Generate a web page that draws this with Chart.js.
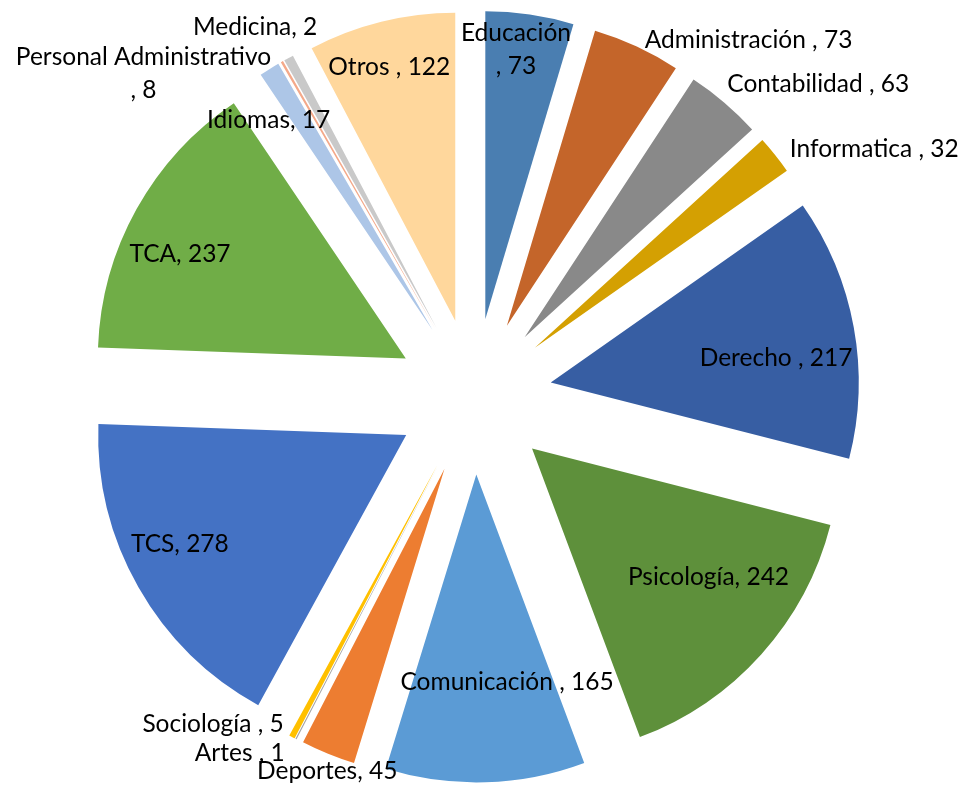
<!DOCTYPE html>
<html>
<head>
<meta charset="utf-8">
<script src="https://cdn.jsdelivr.net/npm/chart.js@4.4.0/dist/chart.umd.min.js"></script>
<style>
  html, body { margin: 0; padding: 0; background: #fff; overflow: hidden; }
  #wrap { width: 971px; height: 786px; position: relative; }
</style>
</head>
<body>
<div id="wrap"><canvas id="myChart"></canvas></div>
<script>
var categories = ["Educación ", "Administración ", "Contabilidad ", "Informatica ", "Derecho ",
    "Psicología", "Comunicación ", "Deportes", "Artes ", "Sociología ", "TCS", "TCA",
    "Idiomas", "Medicina", "Personal Administrativo", "Otros "];
var values = [73, 73, 63, 32, 217, 242, 165, 45, 1, 5, 278, 237, 17, 2, 8, 122];
var colors = ["#4A7EB1", "#C4652A", "#898989", "#D4A002", "#375EA3", "#5E903B",
    "#5B9BD5", "#ED7D31", "#A5A5A5", "#FFC000", "#4472C4", "#70AD47",
    "#ADC6E7", "#F4A98A", "#C9C9C9", "#FFD79C"];

// where each label sits: angle (deg, clockwise from top) and distance as a share of the radius
var labelAngle = [6.9, 37.6, 47.7, 58.2, 82.6, 127.6, 173.4, 201.4, 213.3, 218.6, 243.4, 295.9,
    323.4, 329.4, 314.4, 345.6];
var labelRadius = [1.135, 1.461, 1.511, 1.529, 0.989, 0.961, 0.933, 1.306, 1.385, 1.358, 1.068, 1.061,
    1.118, 1.396, 1.502, 1.106];
var wrapped = ["Educación ", "Personal Administrativo"];

var explode = 78;
var fontSize = 24.5;

var explodePlugin = {
    id: 'explode',
    afterDatasetsUpdate: function(chart) {
        chart.getDatasetMeta(0).data.forEach(function(arc) {
            var mid = (arc.startAngle + arc.endAngle) / 2;
            arc.x += Math.cos(mid) * explode;
            arc.y += Math.sin(mid) * explode;
        });
    }
};

var labelPlugin = {
    id: 'sliceLabels',
    afterDatasetsDraw: function(chart) {
        var ctx = chart.ctx;
        var area = chart.chartArea;
        var cx = (area.left + area.right) / 2;
        var cy = (area.top + area.bottom) / 2;
        var r = chart.getDatasetMeta(0).controller.outerRadius;
        ctx.save();
        ctx.font = fontSize + 'px Lato';
        ctx.fillStyle = '#000';
        ctx.textAlign = 'center';
        ctx.textBaseline = 'alphabetic';
        var capHalf = fontSize * 0.34;
        categories.forEach(function(name, i) {
            var a = labelAngle[i] * Math.PI / 180;
            var x = cx + Math.sin(a) * r * labelRadius[i];
            var y = cy - Math.cos(a) * r * labelRadius[i];
            if (wrapped.indexOf(name) >= 0) {
                ctx.fillText(name.trim(), x, y - 16.5 + capHalf);
                ctx.fillText(', ' + values[i], x, y + 16.5 + capHalf);
            } else {
                ctx.fillText(name + ', ' + values[i], x, y + capHalf);
            }
        });
        ctx.restore();
    }
};

var ctx = document.getElementById('myChart').getContext('2d');
var chart = new Chart(ctx, {
    type: 'pie',
    data: {
        labels: categories,
        datasets: [{
            data: values,
            backgroundColor: colors,
            borderWidth: 0
        }]
    },
    options: {
        responsive: true,
        maintainAspectRatio: false,
        animation: false,
        radius: 308,
        layout: { padding: { left: 0, right: 23, top: 7, bottom: 0 } },
        plugins: {
            legend: { display: false },
            tooltip: { enabled: false }
        }
    },
    plugins: [explodePlugin, labelPlugin]
});
</script>
</body>
</html>
